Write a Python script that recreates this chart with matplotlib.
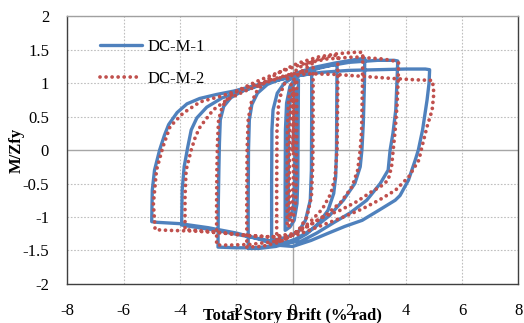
import matplotlib
matplotlib.use("Agg")
import matplotlib.pyplot as plt

# Hysteresis response, (drift %, M/Zfy) pairs, one list per loading cycle.
# Each cycle: unloading from the positive peak down to the negative peak,
# then reloading up to the next positive peak.
dcm1_start = [(0.0, 0.0), (0.05, 0.5), (0.09, 0.88)]
dcm1_cycle0 = [(0.09, 0.3), (0.07, -0.4), (0.02, -0.85), (-0.08, -1.0), (-0.16, -1.05),
               (-0.16, -0.4), (-0.15, 0.3), (-0.1, 0.7), (0.0, 0.95), (0.12, 1.03), (0.2, 1.05)]
dcm1_cycle1 = [(0.19, 0.4), (0.18, -0.4), (0.15, -0.8), (0.05, -1.05), (-0.1, -1.15), (-0.27, -1.2),
               (-0.27, -0.5), (-0.26, 0.3), (-0.22, 0.7), (-0.1, 0.95), (0.1, 1.08), (0.4, 1.15),
               (0.6, 1.19), (0.67, 1.2)]
dcm1_cycle2 = [(0.67, 0.5), (0.66, -0.3), (0.62, -0.75), (0.45, -1.05), (0.2, -1.22), (-0.2, -1.3),
               (-0.5, -1.33), (-0.75, -1.35),
               (-0.75, -0.5), (-0.74, 0.3), (-0.7, 0.6), (-0.55, 0.85), (-0.3, 1.0), (0.0, 1.08),
               (0.5, 1.17), (1.0, 1.23), (1.4, 1.27), (1.57, 1.28)]
dcm1_cycle3 = [(1.56, 0.8), (1.55, 0.0), (1.52, -0.4), (1.45, -0.65), (1.25, -0.9), (0.9, -1.1),
               (0.5, -1.25), (0.0, -1.37), (-0.6, -1.44), (-1.2, -1.47), (-1.58, -1.47),
               (-1.58, -0.8), (-1.57, 0.0), (-1.54, 0.45), (-1.45, 0.68), (-1.25, 0.85), (-0.9, 0.98),
               (-0.4, 1.07), (0.0, 1.13), (0.7, 1.23), (1.5, 1.3), (2.2, 1.35), (2.55, 1.37)]
dcm1_cycle4 = [(2.54, 1.0), (2.5, 0.4), (2.45, 0.0), (2.39, -0.25), (2.2, -0.5), (1.79, -0.75),
               (1.3, -0.98), (0.7, -1.18), (0.1, -1.33), (-0.5, -1.42), (-1.3, -1.46), (-2.0, -1.46),
               (-2.65, -1.45),
               (-2.64, -0.8), (-2.62, -0.3), (-2.6, 0.1), (-2.57, 0.45), (-2.45, 0.65), (-2.2, 0.78),
               (-1.8, 0.88), (-1.2, 0.97), (-0.5, 1.06), (0.3, 1.16), (1.0, 1.24), (2.0, 1.31),
               (3.0, 1.34), (3.6, 1.34), (3.72, 1.33)]
dcm1_cycle5 = [(3.7, 1.1), (3.65, 0.6), (3.55, 0.25), (3.45, 0.0), (3.38, -0.3), (3.1, -0.5),
               (2.62, -0.75), (2.03, -0.94), (1.43, -1.09), (0.85, -1.24), (0.26, -1.37),
               (-0.5, -1.38), (-1.5, -1.3), (-2.7, -1.2), (-3.5, -1.15), (-3.94, -1.12),
               (-3.92, -0.6), (-3.85, -0.25), (-3.72, 0.05), (-3.6, 0.3), (-3.4, 0.48), (-3.05, 0.64),
               (-2.5, 0.78), (-1.8, 0.88), (-1.0, 0.99), (0.0, 1.1), (1.0, 1.16), (2.0, 1.19),
               (3.0, 1.2), (4.0, 1.21), (4.7, 1.21), (4.85, 1.2)]
dcm1_cycle6 = [(4.83, 1.0), (4.76, 0.75), (4.6, 0.3), (4.45, 0.0), (4.34, -0.15), (4.1, -0.45),
               (3.8, -0.68), (3.63, -0.75), (3.05, -0.9), (2.46, -1.05), (1.85, -1.14), (1.27, -1.24),
               (0.65, -1.35), (0.0, -1.44), (-0.6, -1.42), (-1.2, -1.33), (-2.0, -1.24), (-3.0, -1.16),
               (-4.0, -1.1), (-4.8, -1.08), (-5.0, -1.07),
               (-4.98, -0.6), (-4.9, -0.3), (-4.72, 0.0), (-4.55, 0.22), (-4.4, 0.38), (-4.1, 0.56),
               (-3.75, 0.69), (-3.3, 0.77), (-2.7, 0.83), (-2.1, 0.88), (-1.0, 1.0), (0.0, 1.1),
               (0.8, 1.15)]

dcm2_start = [(0.0, 0.0), (0.02, 0.5), (0.03, 0.92)]
dcm2_cycle0 = [(0.03, 0.3), (0.02, -0.4), (-0.02, -0.85), (-0.08, -1.02), (-0.12, -1.05),
               (-0.12, -0.4), (-0.11, 0.3), (-0.06, 0.72), (0.03, 0.95), (0.1, 1.03), (0.14, 1.05)]
dcm2_cycle1 = [(0.14, 0.4), (0.13, -0.4), (0.1, -0.8), (0.0, -1.05), (-0.1, -1.12), (-0.2, -1.15),
               (-0.2, -0.5), (-0.19, 0.3), (-0.15, 0.75), (-0.05, 1.0), (0.15, 1.12), (0.45, 1.22),
               (0.72, 1.3)]
dcm2_cycle2 = [(0.72, 0.6), (0.71, -0.2), (0.66, -0.7), (0.5, -1.0), (0.2, -1.2), (-0.2, -1.32),
               (-0.57, -1.38),
               (-0.57, -0.6), (-0.56, 0.3), (-0.5, 0.7), (-0.35, 0.95), (-0.1, 1.12), (0.3, 1.25),
               (0.8, 1.34), (1.3, 1.4), (1.6, 1.42)]
dcm2_cycle3 = [(1.59, 0.8), (1.57, 0.0), (1.5, -0.4), (1.35, -0.65), (1.05, -0.88), (0.6, -1.08),
               (0.1, -1.25), (-0.5, -1.38), (-1.1, -1.44), (-1.63, -1.45),
               (-1.63, -0.8), (-1.62, 0.0), (-1.58, 0.45), (-1.48, 0.7), (-1.25, 0.9), (-0.9, 1.05),
               (-0.4, 1.18), (0.2, 1.3), (0.9, 1.39), (1.6, 1.44), (2.2, 1.46), (2.48, 1.46)]
dcm2_cycle4 = [(2.47, 1.0), (2.44, 0.3), (2.39, 0.0), (2.3, -0.3), (2.1, -0.55), (1.7, -0.78),
               (1.2, -0.96), (0.6, -1.12), (0.0, -1.27), (-0.7, -1.37), (-1.5, -1.41), (-2.2, -1.42),
               (-2.7, -1.42),
               (-2.7, -0.8), (-2.69, -0.3), (-2.67, 0.1), (-2.63, 0.45), (-2.5, 0.65), (-2.25, 0.8),
               (-1.8, 0.92), (-1.2, 1.04), (-0.5, 1.16), (0.3, 1.28), (1.2, 1.36), (2.2, 1.39),
               (3.2, 1.36), (3.6, 1.33), (3.75, 1.3)]
dcm2_cycle5 = [(3.74, 1.1), (3.7, 0.7), (3.63, 0.3), (3.56, 0.0), (3.5, -0.25), (3.38, -0.45),
               (3.1, -0.55), (2.8, -0.62), (2.27, -0.77), (1.68, -0.9), (1.08, -1.0), (0.61, -1.12),
               (0.0, -1.25), (-0.8, -1.3), (-1.8, -1.27), (-2.8, -1.22), (-3.5, -1.2), (-3.82, -1.19),
               (-3.82, -0.7), (-3.78, -0.3), (-3.6, 0.0), (-3.45, 0.2), (-3.28, 0.35), (-2.82, 0.6),
               (-2.3, 0.76), (-1.7, 0.88), (-1.0, 1.0), (-0.3, 1.1), (0.5, 1.14), (1.5, 1.13),
               (2.5, 1.1), (3.5, 1.07), (4.3, 1.05), (4.95, 1.04)]
dcm2_cycle6 = [(5.0, 0.85), (4.94, 0.6), (4.76, 0.35), (4.58, 0.05), (4.47, -0.15), (4.11, -0.4),
               (3.64, -0.6), (3.05, -0.75), (2.46, -0.88), (1.8, -1.0), (1.0, -1.13), (0.2, -1.26),
               (-0.6, -1.3), (-1.5, -1.28), (-2.5, -1.24), (-3.5, -1.21), (-4.4, -1.2), (-4.88, -1.19),
               (-4.94, -0.8), (-4.83, -0.3), (-4.6, 0.05), (-4.35, 0.35), (-3.89, 0.55), (-3.28, 0.72),
               (-2.58, 0.8), (-1.87, 0.9), (-1.0, 1.02), (-0.2, 1.12), (0.5, 1.18)]

series_names = ["DC-M-1", "DC-M-2"]
x_ticks = [-8, -6, -4, -2, 0, 2, 4, 6, 8]
y_ticks = [-2, -1.5, -1, -0.5, 0, 0.5, 1, 1.5, 2]
y_tick_labels = ["-2", "-1.5", "-1", "-0.5", "0", "0.5", "1", "1.5", "2"]


def join(*parts):
    pts = [p for part in parts for p in part]
    return [p[0] for p in pts], [p[1] for p in pts]


plt.rcParams["font.family"] = ["Liberation Serif", "DejaVu Serif"]

fig = plt.figure(figsize=(5.24, 3.23), dpi=100, facecolor="white")
ax = fig.add_axes([0.128, 0.121, 0.8615, 0.829])

# grid
for xv in x_ticks:
    if xv == 0:
        ax.axvline(xv, color="#a6a6a6", lw=1.0, zorder=1)
    else:
        ax.axvline(xv, color="#bfbfbf", lw=0.8, ls=(0, (1.5, 1.5)), zorder=1)
for yv in y_ticks:
    if yv == 0:
        ax.axhline(yv, color="#a6a6a6", lw=1.0, zorder=1)
    else:
        ax.axhline(yv, color="#bfbfbf", lw=0.8, ls=(0, (1.5, 1.5)), zorder=1)

bx, by = join(dcm1_start, dcm1_cycle0, dcm1_cycle1, dcm1_cycle2, dcm1_cycle3,
              dcm1_cycle4, dcm1_cycle5, dcm1_cycle6)
rx, ry = join(dcm2_start, dcm2_cycle0, dcm2_cycle1, dcm2_cycle2, dcm2_cycle3,
              dcm2_cycle4, dcm2_cycle5, dcm2_cycle6)

ax.plot(bx, by, color="#4f81bd", lw=2.4, solid_joinstyle="round", solid_capstyle="round",
        label=series_names[0], zorder=3)
ax.plot(rx, ry, color="#c0504d", lw=2.7, ls=(0, (0.01, 1.6)), dash_capstyle="round",
        label=series_names[1], zorder=4)

ax.set_xlim(-8, 8)
ax.set_ylim(-2, 2)
ax.set_xticks(x_ticks)
ax.set_xticklabels([str(v) for v in x_ticks])
ax.set_yticks(y_ticks)
ax.set_yticklabels(y_tick_labels)
ax.tick_params(axis="both", length=0, labelsize=12, colors="black")
ax.tick_params(axis="x", pad=14)
ax.tick_params(axis="y", pad=13)

for side in ("left", "bottom", "right"):
    ax.spines[side].set_color("#404040")
    ax.spines[side].set_linewidth(1.0)
ax.spines["top"].set_color("#a0a0a0")
ax.spines["top"].set_linewidth(1.0)

ax.set_xlabel("Total Story Drift (% rad)", fontsize=12, fontweight="bold", va="center")
ax.xaxis.set_label_coords(0.5, -0.118)
ax.set_ylabel("M/Zfy", fontsize=12, fontweight="bold", va="center")
ax.yaxis.set_label_coords(-0.111, 0.5)

leg = ax.legend(loc="upper left", bbox_to_anchor=(0.058, 0.94), frameon=False, fontsize=12,
                handlelength=2.55, handletextpad=0.3, labelspacing=0.95, borderaxespad=0.0)

fig.savefig("out.png", dpi=100, facecolor="white")
